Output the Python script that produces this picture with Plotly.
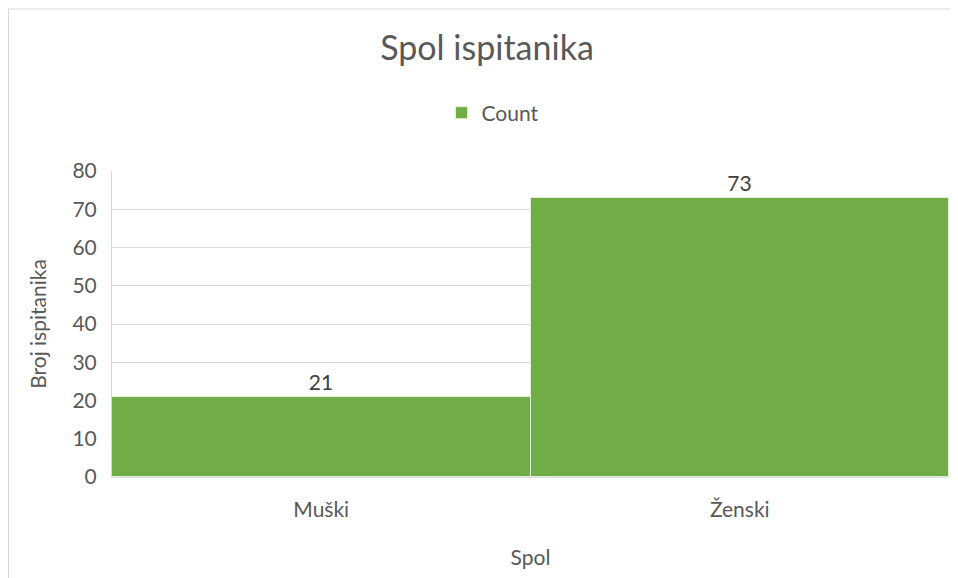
import plotly.graph_objects as go

categories = ["Muški", "Ženski"]
counts = [21, 73]
series_name = "Count"

# page is drawn with an 8px body offset, so work in figure coords
W, H = 958, 578
L, R, T, B = 104, 17, 163, 109
pw = W - L - R
ph = H - T - B


def px_x(v):
    return (v - L) / pw


def px_y(v):
    return (H - B - v) / ph


fig = go.Figure()
fig.add_trace(go.Bar(
    x=categories,
    y=counts,
    name=series_name,
    marker=dict(color="#70ad47", line=dict(color="#e2efd9", width=1)),
    text=counts,
    textposition="outside",
    textfont=dict(size=21, color="#404040"),
    cliponaxis=False,
))

# chart frame: only top and left edges are visible in the crop
frame = dict(color="#d9d9d9", width=1)
fig.add_shape(type="line", xref="paper", yref="paper",
              x0=px_x(0.5), x1=px_x(W), y0=px_y(1), y1=px_y(1), line=frame, layer="below")
fig.add_shape(type="line", xref="paper", yref="paper",
              x0=px_x(0.5), x1=px_x(0.5), y0=px_y(1), y1=px_y(H), line=frame, layer="below")

fig.update_layout(
    width=W, height=H,
    margin=dict(l=L, r=R, t=T, b=B),
    paper_bgcolor="white", plot_bgcolor="white",
    font=dict(family="Lato, Open Sans, sans-serif", color="#595959", size=21),
    title=dict(text="Spol ispitanika", x=(487 - 8) / W, xanchor="center", xref="container",
               y=1 - 40 / H, yanchor="middle",
               font=dict(size=34, color="#595959")),
    showlegend=True,
    legend=dict(orientation="h", x=(493 - 112) / pw, xanchor="center", xref="paper",
                y=px_y(105), yanchor="middle",
                font=dict(size=21, color="#595959")),
    bargap=0,
    xaxis=dict(title=dict(text="Spol", font=dict(size=21, color="#595959"), standoff=30),
               showline=True, linecolor="#d9d9d9", ticks="", showgrid=False,
               ticklabelstandoff=14),
    yaxis=dict(title=dict(text="Broj ispitanika", font=dict(size=21, color="#595959"), standoff=20),
               range=[0, 80], dtick=10, showgrid=True, gridcolor="#d9d9d9",
               showline=True, linecolor="#d9d9d9", ticks="", zeroline=False,
               ticklabelstandoff=10),
)

fig.write_html("out.html")
